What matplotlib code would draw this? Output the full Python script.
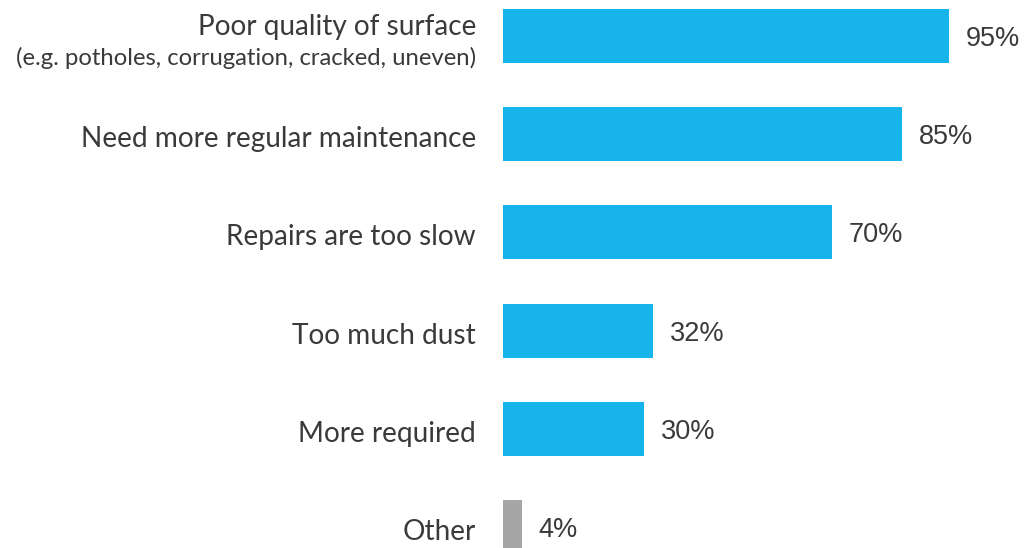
import matplotlib.pyplot as plt
import matplotlib.transforms as mtransforms

categories = ['Poor quality of surface', 'Need more regular maintenance', 'Repairs are too slow',
              'Too much dust', 'More required', 'Other']
subtitles = ['(e.g. potholes, corrugation, cracked, uneven)', '', '', '', '', '']
values = [95, 85, 70, 32, 30, 4]
colors = ['#16b4ea'] * 5 + ['#a6a6a6']

text_color = '#3a3a3a'

fig = plt.figure(figsize=(10.25, 5.48), dpi=100)
ax = fig.add_axes([503 / 1025, 0, 1 - 503 / 1025, 1])

ypos = list(range(len(values)))
ax.barh(ypos, values, height=0.55, color=colors)
ax.set_xlim(0, 111.2)
ax.set_ylim(5.213, -0.366)
ax.axis('off')

left_off = mtransforms.offset_copy(ax.transData, fig=fig, x=-27, y=0, units='dots')
right_off = mtransforms.offset_copy(ax.transData, fig=fig, x=17, y=0, units='dots')

for y, cat, sub, v in zip(ypos, categories, subtitles, values):
    if sub:
        ax.text(0, y - 0.09, cat, transform=left_off, ha='right', va='center',
                fontsize=20.2, family='Lato', color=text_color)
        ax.text(0, y + 0.22, sub, transform=left_off, ha='right', va='center',
                fontsize=17.2, family='Lato', color=text_color)
    else:
        ax.text(0, y + 0.05, cat, transform=left_off, ha='right', va='center',
                fontsize=20.2, family='Lato', color=text_color)
    ax.text(v, y + 0.03, f'{v}%', transform=right_off, ha='left', va='center',
            fontsize=19.5, family=['Liberation Sans', 'DejaVu Sans'], color=text_color)

fig.savefig('out.png', dpi=100)
